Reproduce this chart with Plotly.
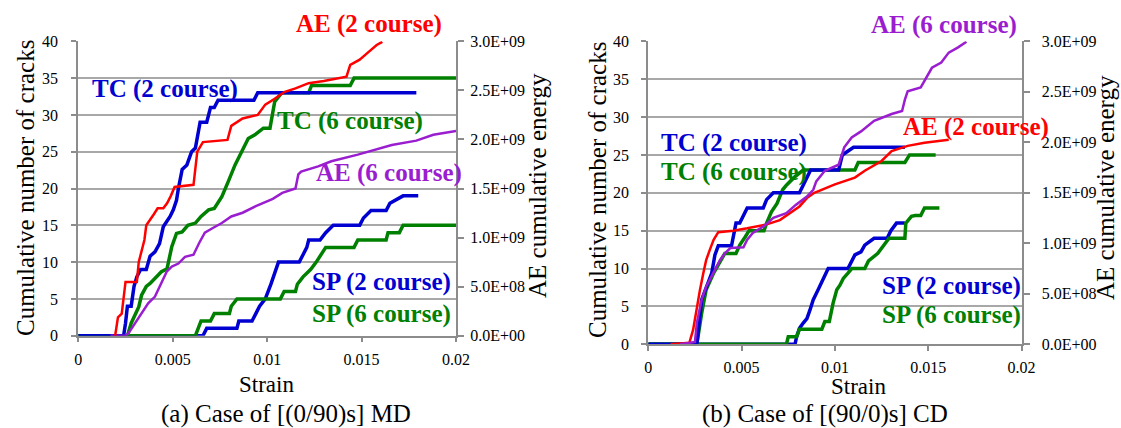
import plotly.graph_objects as go

# ---------------- data: panel (a) [(0/90)s] MD ----------------
a_tc2_strain = [0, 0.0024, 0.0025, 0.0026, 0.0028, 0.00295, 0.0031, 0.0033, 0.0036, 0.0038, 0.00406, 0.0043,
                0.0045, 0.00486, 0.00503, 0.0052, 0.0053, 0.0055, 0.00575, 0.0060, 0.0062, 0.00645, 0.0068,
                0.0070, 0.0072, 0.0074, 0.0093, 0.0095, 0.0179]
a_tc2_cracks = [0, 0, 1.7, 4, 4, 6.7, 8, 9, 9, 10.8, 11.4, 12.5, 14.8, 16.2, 17.1, 18.4, 20, 22.6, 23.2, 25,
                25.5, 29, 29, 31, 31, 32, 32, 33, 33]

a_tc6_strain = [0, 0.0026, 0.0028, 0.0032, 0.00335, 0.0036, 0.0038, 0.00406, 0.0044, 0.0047, 0.00495, 0.0052,
                0.0055, 0.0058, 0.0062, 0.0065, 0.0069, 0.0072, 0.0076, 0.00795, 0.0083, 0.00865, 0.0090,
                0.00935, 0.0098, 0.01015, 0.0104, 0.01077, 0.0122, 0.01235, 0.0144, 0.0146, 0.0200]
a_tc6_cracks = [0, 0, 1.7, 3.9, 5.5, 6.7, 7.1, 7.8, 8.7, 9.1, 12.1, 13.9, 14.1, 15, 15.3, 16.2, 17.1, 17.3,
                18.9, 21, 23.2, 25, 26.8, 27.3, 28.2, 28.2, 31.8, 33, 33, 34, 34, 35, 35]

a_sp2_strain = [0, 0.0066, 0.0068, 0.0084, 0.0085, 0.0092, 0.0094, 0.0096, 0.0099, 0.0102, 0.0106, 0.0117,
                0.0119, 0.0121, 0.0122, 0.0128, 0.0131, 0.0135, 0.0149, 0.0151, 0.0155, 0.0163, 0.0165,
                0.0172, 0.0180]
a_sp2_cracks = [0, 0, 1, 1, 2, 2, 3, 4, 5, 7, 10, 10, 11, 12, 13, 13, 14, 15, 15, 16, 17, 17, 18, 19, 19]

a_sp6_strain = [0, 0.0062, 0.0065, 0.0070, 0.0072, 0.0080, 0.0081, 0.0084, 0.0107, 0.0109, 0.0115, 0.0116,
                0.0119, 0.0123, 0.0126, 0.0131, 0.0146, 0.0148, 0.0163, 0.0164, 0.0170, 0.0172, 0.0200]
a_sp6_cracks = [0, 0, 2, 2, 3, 3, 4, 5, 5, 6, 6, 7, 8, 9, 10, 12, 12, 13, 13, 14, 14, 15, 15]

a_ae2_strain = [0.00195, 0.0021, 0.0023, 0.0025, 0.0031, 0.0032, 0.0035, 0.0036, 0.0040, 0.0042, 0.0045,
                0.0047, 0.0049, 0.0051, 0.0061, 0.0063, 0.0066, 0.0079, 0.0081, 0.0087, 0.0095, 0.0099,
                0.0104, 0.0109, 0.0115, 0.0122, 0.0130, 0.0142, 0.0144, 0.0149, 0.0153, 0.0158, 0.0161]
a_ae2_energy = [0, 0.188e9, 0.225e9, 0.548e9, 0.548e9, 0.750e9, 0.975e9, 1.125e9, 1.238e9, 1.298e9, 1.298e9,
                1.350e9, 1.425e9, 1.515e9, 1.538e9, 1.875e9, 1.973e9, 1.995e9, 2.138e9, 2.213e9, 2.250e9,
                2.355e9, 2.415e9, 2.483e9, 2.520e9, 2.573e9, 2.595e9, 2.640e9, 2.760e9, 2.813e9, 2.880e9,
                2.963e9, 2.995e9]

a_ae6_strain = [0.0017, 0.0025, 0.00265, 0.0030, 0.00335, 0.0037, 0.00406, 0.0044, 0.00468, 0.00495, 0.0053,
                0.00565, 0.0061, 0.0064, 0.0067, 0.0071, 0.0076, 0.0081, 0.0087, 0.0094, 0.0099, 0.0103,
                0.0108, 0.0115, 0.01165, 0.0118, 0.0127, 0.0134, 0.0148, 0.0166, 0.0179, 0.0188, 0.0200]
a_ae6_energy = [0, 0, 0.023e9, 0.128e9, 0.233e9, 0.330e9, 0.398e9, 0.533e9, 0.653e9, 0.705e9, 0.735e9,
                0.803e9, 0.825e9, 0.945e9, 1.050e9, 1.095e9, 1.148e9, 1.215e9, 1.253e9, 1.320e9, 1.358e9,
                1.395e9, 1.455e9, 1.500e9, 1.643e9, 1.673e9, 1.725e9, 1.778e9, 1.845e9, 1.943e9, 1.988e9,
                2.048e9, 2.085e9]

# ---------------- data: panel (b) [(90/0)s] CD ----------------
b_tc2_strain = [0, 0.0026, 0.00286, 0.0031, 0.0034, 0.00357, 0.00375, 0.00446, 0.00455, 0.0047, 0.0049,
                0.0053, 0.00616, 0.00634, 0.0067, 0.0081, 0.0083, 0.0085, 0.0087, 0.0102, 0.0104, 0.0110, 0.01375]
b_tc2_cracks = [0, 0, 5.9, 7.6, 9.4, 11.8, 13, 13, 14.2, 16, 16, 18, 18, 19.1, 20, 20, 21, 22, 23, 23, 25, 26, 26]

b_tc6_strain = [0, 0.0026, 0.00286, 0.0031, 0.0035, 0.00384, 0.0041, 0.0047, 0.0049, 0.0052, 0.0054, 0.0062,
                0.00634, 0.0066, 0.0069, 0.00705, 0.0072, 0.0074, 0.0078, 0.0083, 0.01107, 0.01125, 0.01375,
                0.0140, 0.0154]
b_tc6_cracks = [0, 0, 4.1, 7.2, 9.4, 10.9, 12, 12, 13.1, 14.2, 15, 15, 16, 17.5, 18.6, 19.5, 20.4, 21, 22, 23,
                23, 24, 24, 25, 25]

b_sp2_strain = [0, 0.00786, 0.00795, 0.0081, 0.0083, 0.0085, 0.00866, 0.00884, 0.0091, 0.0093, 0.00964,
                0.0107, 0.0109, 0.01107, 0.0114, 0.0116, 0.0121, 0.0128, 0.0130, 0.0133, 0.01375]
b_sp2_cracks = [0, 0, 1, 2.1, 2.8, 3.4, 4.5, 5.9, 7.2, 8.3, 10, 10, 10.9, 11.8, 12.2, 13.1, 14, 14, 15, 16, 16]

b_sp6_strain = [0, 0.0074, 0.0075, 0.00795, 0.0081, 0.0093, 0.00946, 0.0097, 0.0099, 0.0101, 0.01027,
                0.01045, 0.0107, 0.0109, 0.0116, 0.0118, 0.0123, 0.0126, 0.0129, 0.01375, 0.0138, 0.0141,
                0.0143, 0.0146, 0.0148, 0.0156]
b_sp6_cracks = [0, 0, 1, 1, 2, 2, 3, 3, 5.4, 7.2, 7.8, 8.7, 9.4, 10, 10, 11, 12, 13, 14, 14, 16, 16.9, 17,
                17, 18, 18]

b_ae2_strain = [0.0012, 0.0022, 0.0024, 0.0026, 0.00277, 0.00295, 0.0031, 0.0033, 0.0035, 0.00375, 0.00455,
                0.0053, 0.0063, 0.00705, 0.0076, 0.0081, 0.0085, 0.0089, 0.0100, 0.01107, 0.0116, 0.0125,
                0.01304, 0.0139, 0.0148, 0.0161]
b_ae2_energy = [0, 0.015e9, 0.143e9, 0.375e9, 0.540e9, 0.705e9, 0.833e9, 0.938e9, 1.035e9, 1.110e9, 1.125e9,
                1.148e9, 1.185e9, 1.230e9, 1.298e9, 1.365e9, 1.448e9, 1.500e9, 1.583e9, 1.650e9, 1.718e9,
                1.815e9, 1.913e9, 1.965e9, 1.995e9, 2.025e9]

b_ae6_strain = [0.0017, 0.0025, 0.0026, 0.00286, 0.0031, 0.0035, 0.00384, 0.0041, 0.0044, 0.0051, 0.0053,
                0.0056, 0.0062, 0.0067, 0.0074, 0.0079, 0.0085, 0.00884, 0.0090, 0.00946, 0.0102, 0.0105,
                0.0109, 0.0114, 0.0121, 0.01304, 0.0136, 0.01375, 0.0139, 0.0146, 0.0150, 0.0152, 0.0157,
                0.0161, 0.0166, 0.01705]
b_ae6_energy = [0, 0.023e9, 0.210e9, 0.443e9, 0.570e9, 0.705e9, 0.833e9, 0.900e9, 0.953e9, 0.960e9, 1.035e9,
                1.103e9, 1.170e9, 1.253e9, 1.298e9, 1.380e9, 1.463e9, 1.530e9, 1.613e9, 1.718e9, 1.778e9,
                1.950e9, 2.048e9, 2.108e9, 2.213e9, 2.280e9, 2.310e9, 2.423e9, 2.505e9, 2.543e9, 2.670e9,
                2.738e9, 2.790e9, 2.888e9, 2.940e9, 2.995e9]

crack_ticks = [0, 5, 10, 15, 20, 25, 30, 35, 40]
energy_ticks = [0, 0.5e9, 1.0e9, 1.5e9, 2.0e9, 2.5e9, 3.0e9]
energy_labels = ["{:.1E}".format(v) for v in energy_ticks]

# ---------------- style ----------------
FONT = "Liberation Serif, Times New Roman, Times, serif"
BLUE = "#0000D0"
GREEN = "#008000"
RED = "#FF0000"
PURPLE = "#9A1ECF"
GRID = "#A8A8A8"
AXC = "#8C8C8C"
W = 1121
H = 428

fig = go.Figure()


def add(x, y, color, width, xa, ya):
    fig.add_trace(go.Scatter(x=x, y=y, mode="lines", line=dict(color=color, width=width),
                             xaxis=xa, yaxis=ya, showlegend=False, hoverinfo="skip"))


# panel a
add(a_sp2_strain, a_sp2_cracks, BLUE, 3.5, "x", "y")
add(a_sp6_strain, a_sp6_cracks, GREEN, 3.5, "x", "y")
add(a_tc6_strain, a_tc6_cracks, GREEN, 3.5, "x", "y")
add(a_tc2_strain, a_tc2_cracks, BLUE, 3.5, "x", "y")
add(a_ae6_strain, a_ae6_energy, PURPLE, 2.5, "x", "y2")
add(a_ae2_strain, a_ae2_energy, RED, 2.5, "x", "y2")
# panel b
add(b_sp2_strain, b_sp2_cracks, BLUE, 3.5, "x2", "y3")
add(b_sp6_strain, b_sp6_cracks, GREEN, 3.5, "x2", "y3")
add(b_tc6_strain, b_tc6_cracks, GREEN, 3.5, "x2", "y3")
add(b_tc2_strain, b_tc2_cracks, BLUE, 3.5, "x2", "y3")
add(b_ae2_strain, b_ae2_energy, RED, 2.5, "x2", "y4")
add(b_ae6_strain, b_ae6_energy, PURPLE, 2.5, "x2", "y4")

tickfont = dict(family=FONT, size=16, color="black")


def xax(domain, anchor):
    return dict(domain=domain, anchor=anchor, range=[0, 0.02], tick0=0, dtick=0.005,
                showgrid=False, zeroline=False, showline=True, linecolor=AXC, linewidth=1.5,
                ticks="outside", ticklen=5, tickcolor=AXC, tickwidth=1.5, tickfont=tickfont,
                ticklabelstandoff=3, automargin=False, fixedrange=True)


def yleft(domain, anchor, standoff):
    return dict(domain=domain, anchor=anchor, range=[0, 40], tickvals=crack_ticks,
                showgrid=True, gridcolor=GRID, gridwidth=1.5, zeroline=False,
                showline=True, linecolor=AXC, linewidth=2, ticks="outside", ticklen=5,
                tickcolor=AXC, tickwidth=1.5, tickfont=tickfont, ticklabelstandoff=standoff,
                automargin=False, fixedrange=True)


def yright(over, anchor, standoff):
    return dict(overlaying=over, anchor=anchor, side="right", range=[0, 3e9],
                tickvals=energy_ticks, ticktext=energy_labels, showgrid=False, zeroline=False,
                showline=True, linecolor=AXC, linewidth=2, ticks="outside", ticklen=6,
                tickcolor=AXC, tickwidth=1.5, tickfont=tickfont, ticklabelstandoff=standoff,
                automargin=False, fixedrange=True)


ax0, ax1 = 78.3 / W, 456.0 / W
bx0, bx1 = 648.3 / W, 1021.5 / W
ay0, ay1 = 1 - 335.7 / H, 1 - 41.3 / H
by0, by1 = 1 - 344.3 / H, 1 - 41.3 / H

fig.update_layout(
    width=W, height=H, autosize=False,
    margin=dict(l=0, r=0, t=0, b=0, pad=0),
    paper_bgcolor="white", plot_bgcolor="white",
    font=dict(family=FONT),
    xaxis=xax([ax0, ax1], "y"),
    yaxis=yleft([ay0, ay1], "x", 10),
    yaxis2=yright("y", "x", 3),
    xaxis2=xax([bx0, bx1], "y3"),
    yaxis3=yleft([by0, by1], "x2", 9),
    yaxis4=yright("y3", "x2", 9),
)


def px(x, y):
    return x / W, 1 - y / H


annots = [
    ("AE (2 course)", RED, 369, 24),
    ("TC (2 course)", BLUE, 165, 89),
    ("TC (6 course)", GREEN, 350, 121),
    ("AE (6 course)", PURPLE, 389, 173),
    ("SP (2 course)", BLUE, 381, 282),
    ("SP (6 course)", GREEN, 381, 314),
    ("AE (6 course)", PURPLE, 944, 25),
    ("TC (2 course)", BLUE, 734, 143),
    ("AE (2 course)", RED, 976, 127),
    ("TC (6 course)", GREEN, 734, 172),
    ("SP (2 course)", BLUE, 951, 286),
    ("SP (6 course)", GREEN, 951, 315),
]
for text, color, x, y in annots:
    xx, yy = px(x, y)
    fig.add_annotation(text="<b>" + text + "</b>", x=xx, y=yy, xref="paper", yref="paper",
                       showarrow=False, xanchor="center", yanchor="middle",
                       font=dict(family=FONT, size=25, color=color))

titles = [
    ("Strain", 266, 384, 0, 23),
    ("Strain", 858, 386, 0, 23),
    ("(a) Case of [(0/90)s] MD", 286, 414, 0, 25),
    ("(b) Case of [(90/0)s] CD", 825, 414, 0, 25),
    ("Cumulative number of cracks", 26, 188, -90, 25),
    ("AE cumulative energy", 537, 186, -90, 25),
    ("Cumulative number of cracks", 597, 190, -90, 25),
    ("AE cumulative energy", 1106, 188, -90, 25),
]
for text, x, y, ang, size in titles:
    xx, yy = px(x, y)
    fig.add_annotation(text=text, x=xx, y=yy, xref="paper", yref="paper", showarrow=False,
                       xanchor="center", yanchor="middle", textangle=ang,
                       font=dict(family=FONT, size=size, color="black"))

fig.write_html("out.html", config={"displayModeBar": False},
               post_script="document.body.style.margin='0';document.body.style.padding='0';")
